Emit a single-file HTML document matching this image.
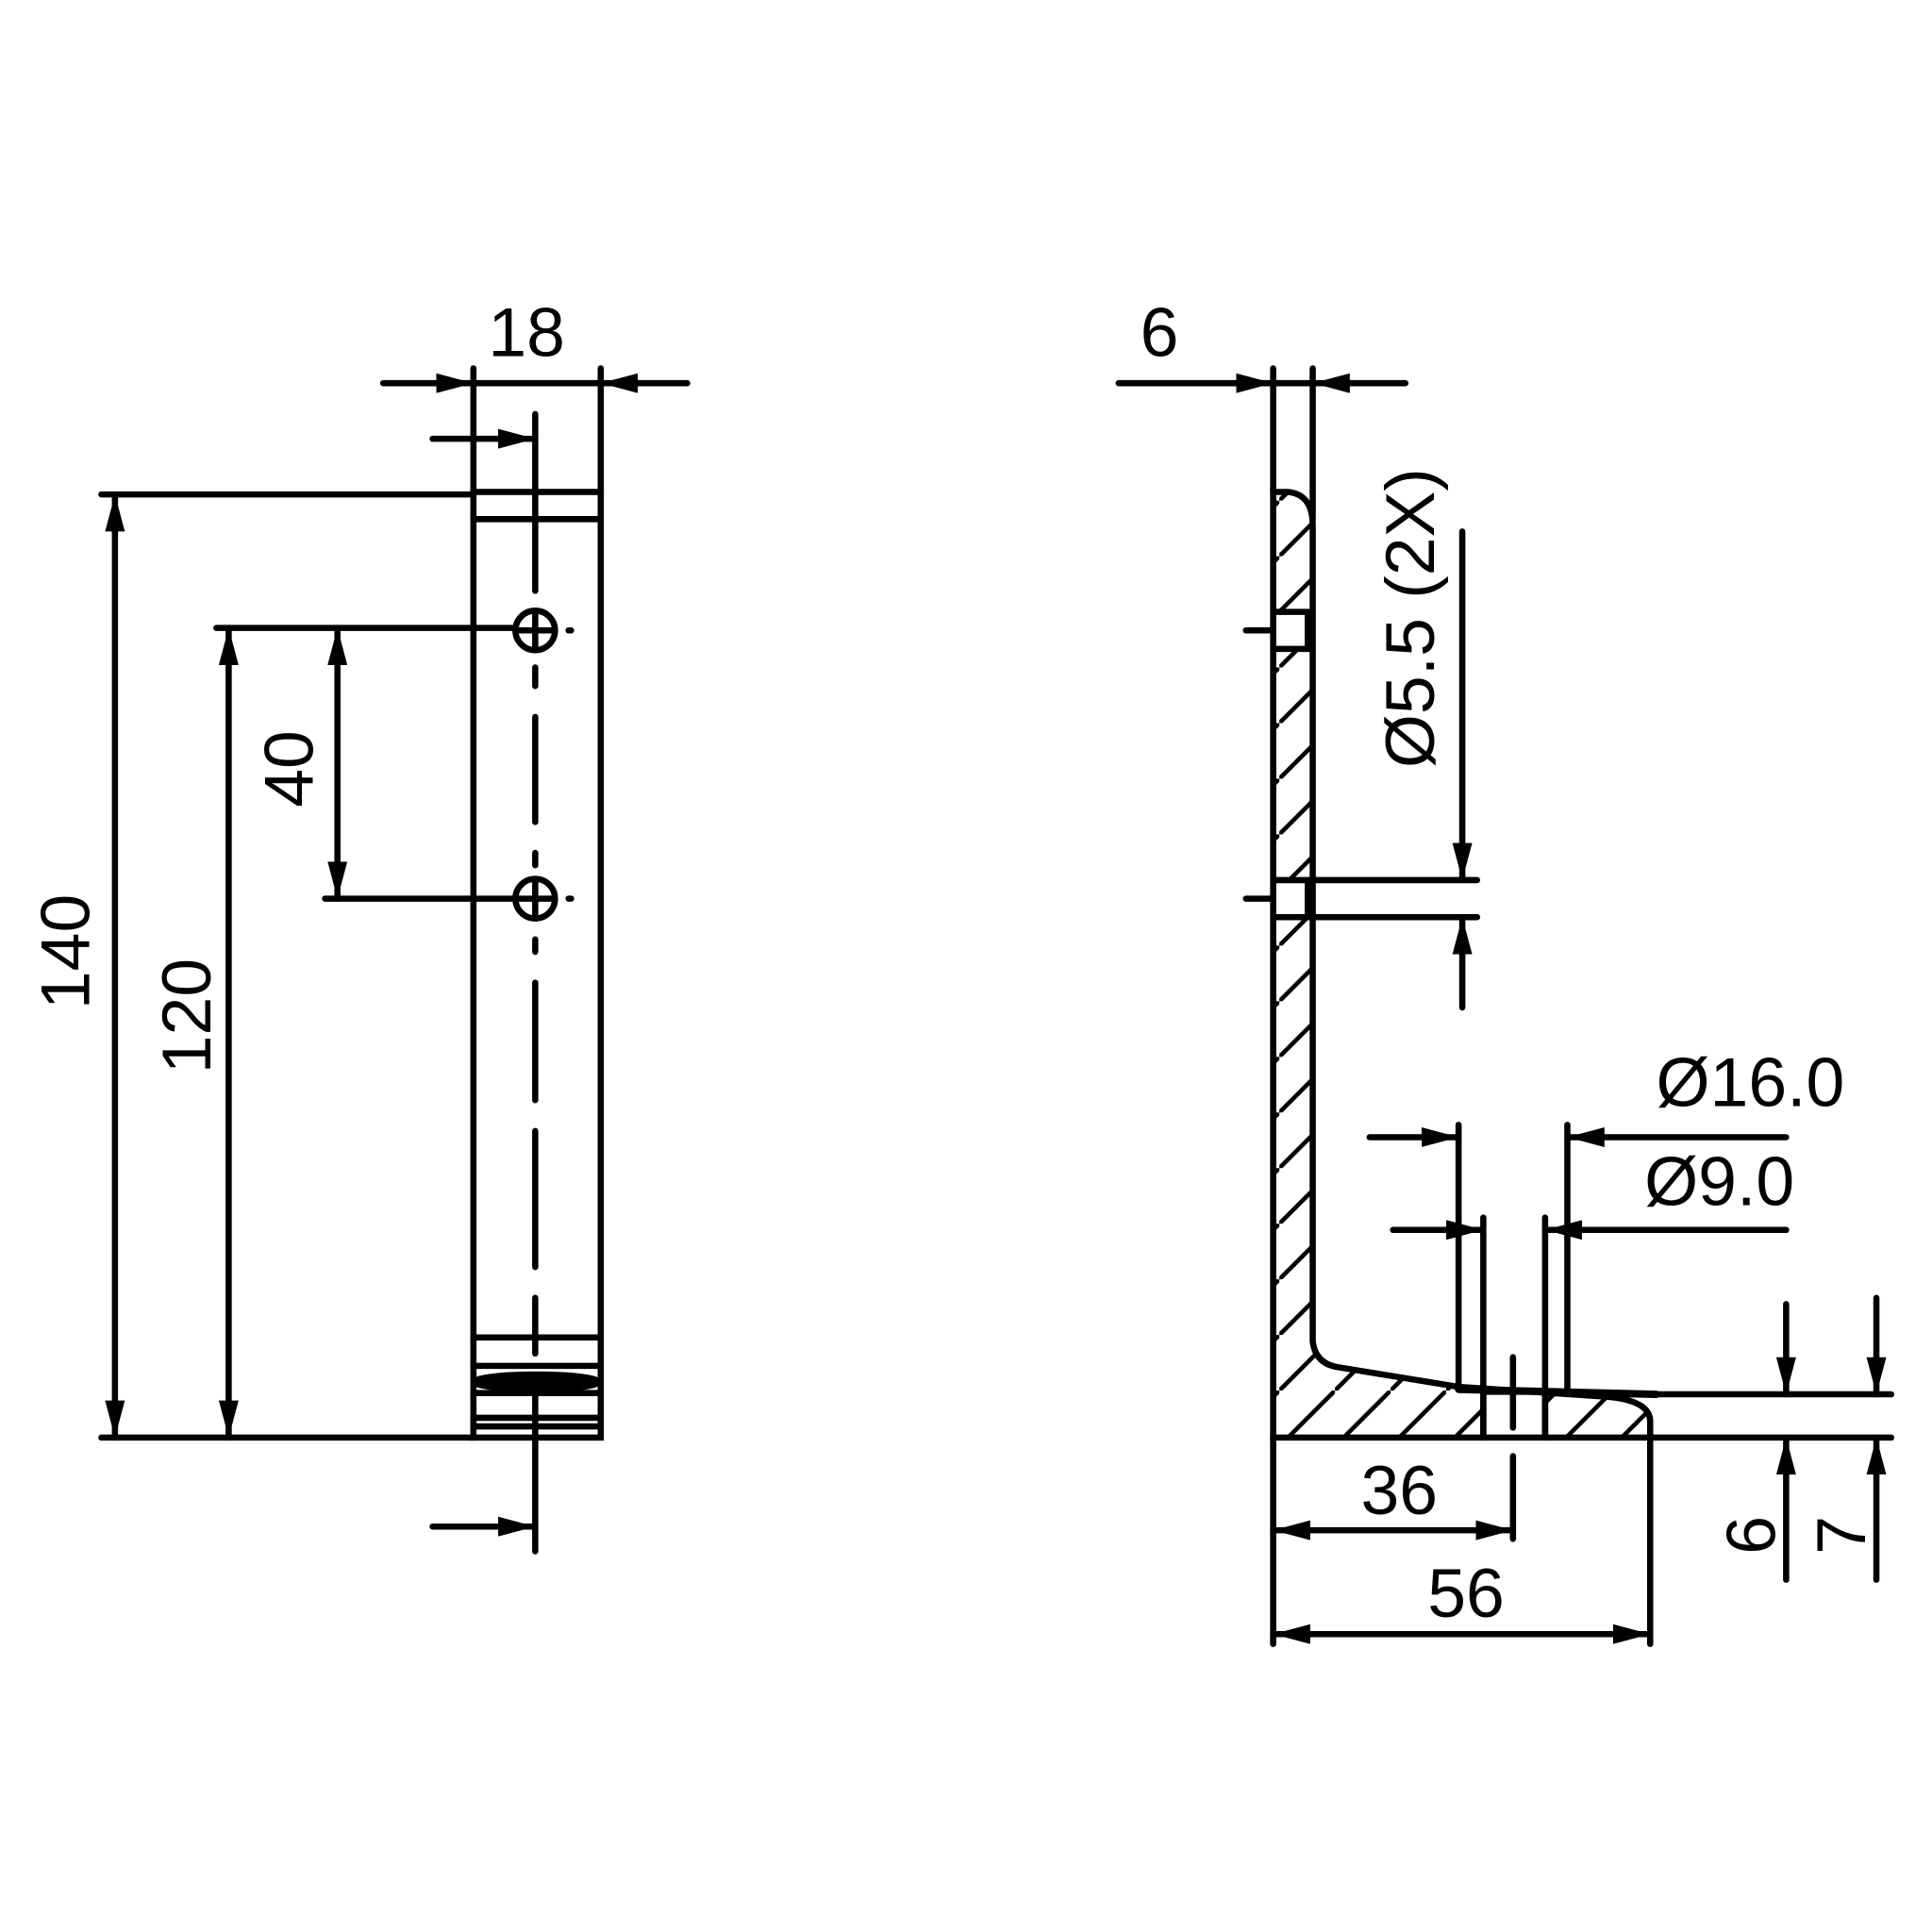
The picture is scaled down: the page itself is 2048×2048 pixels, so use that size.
<!DOCTYPE html>
<html><head><style>html,body{margin:0;padding:0;background:#fff}svg{display:block}</style></head><body>
<svg width="2048" height="2048" viewBox="0 0 1563 1563" xmlns="http://www.w3.org/2000/svg">
<defs>
<marker id="a" viewBox="0 0 30 16" refX="30" refY="8" markerWidth="30" markerHeight="16" markerUnits="userSpaceOnUse" orient="auto-start-reverse"><path d="M0,0 L30,8 L0,16 Z" fill="#000"/></marker>
<pattern id="h" patternUnits="userSpaceOnUse" width="45" height="45"><line x1="-5" y1="50" x2="50" y2="-5" stroke="#000" stroke-width="3.5"/></pattern>
</defs>
<g stroke="#000" stroke-width="5" fill="none" stroke-linecap="round">
<!-- left view -->
<rect x="383" y="398" width="103" height="765"/>
<line x1="383" y1="420" x2="486" y2="420"/>
<line x1="383" y1="1082" x2="486" y2="1082"/>
<line x1="383" y1="1105" x2="486" y2="1105"/>
<ellipse cx="434" cy="1118" rx="50" ry="6" fill="#000"/>
<line x1="383" y1="1127" x2="486" y2="1127"/>
<line x1="383" y1="1147" x2="486" y2="1147"/>
<line x1="383" y1="1154" x2="486" y2="1154"/>
<line x1="433" y1="335" x2="433" y2="478"/>
<line x1="433" y1="540" x2="433" y2="555"/>
<line x1="433" y1="580" x2="433" y2="665"/>
<line x1="433" y1="690" x2="433" y2="700"/>
<line x1="433" y1="760" x2="433" y2="770"/>
<line x1="433" y1="795" x2="433" y2="890"/>
<line x1="433" y1="915" x2="433" y2="1025"/>
<line x1="433" y1="1050" x2="433" y2="1095"/>
<line x1="433" y1="1120" x2="433" y2="1255"/>
<circle cx="433" cy="510" r="16"/><line x1="417" y1="510" x2="449" y2="510"/><line x1="433" y1="494" x2="433" y2="526"/>
<circle cx="433" cy="727" r="16"/><line x1="417" y1="727" x2="449" y2="727"/><line x1="433" y1="711" x2="433" y2="743"/>
<line x1="460" y1="510" x2="462" y2="510"/><line x1="460" y1="727" x2="462" y2="727"/>
<!-- left dims -->
<line x1="383" y1="298" x2="383" y2="398"/><line x1="486" y1="298" x2="486" y2="398"/>
<line x1="310" y1="310" x2="383" y2="310" marker-end="url(#a)"/>
<line x1="556" y1="310" x2="486" y2="310" marker-end="url(#a)"/>
<line x1="383" y1="310" x2="486" y2="310"/>
<line x1="350" y1="355" x2="433" y2="355" marker-end="url(#a)"/>
<line x1="350" y1="1235" x2="433" y2="1235" marker-end="url(#a)"/>
<line x1="82" y1="400" x2="383" y2="400"/>
<line x1="82" y1="1163" x2="383" y2="1163"/>
<line x1="93" y1="400" x2="93" y2="1163" marker-start="url(#a)" marker-end="url(#a)"/>
<line x1="175" y1="508" x2="417" y2="508"/>
<line x1="263" y1="727" x2="417" y2="727"/>
<line x1="185" y1="508" x2="185" y2="1163" marker-start="url(#a)" marker-end="url(#a)"/>
<line x1="273" y1="508" x2="273" y2="727" marker-start="url(#a)" marker-end="url(#a)"/>
<!-- right view section -->
<path fill="url(#h)" fill-rule="evenodd" d="M1030,1163 V398 H1042 Q1062,400 1062,425 V1085 Q1064,1103 1082,1106 L1180,1122 L1300,1130 Q1335,1133 1335,1150 V1163 Z M1200,1126 H1250 V1163 H1200 Z M1030,495 H1058 V525 H1030 Z M1030,712 H1058 V742 H1030 Z"/>
<line x1="1180" y1="1124" x2="1340" y2="1128" stroke-width="6"/>
<line x1="1340" y1="1128" x2="1530" y2="1128"/>
<line x1="1335" y1="1163" x2="1530" y2="1163"/>
<line x1="1008" y1="510" x2="1030" y2="510"/><line x1="1008" y1="727" x2="1030" y2="727"/>
<!-- hole lines -->
<line x1="1180" y1="910" x2="1180" y2="1124"/>
<line x1="1268" y1="910" x2="1268" y2="1126"/>
<line x1="1200" y1="985" x2="1200" y2="1163"/>
<line x1="1250" y1="985" x2="1250" y2="1163"/>
<line x1="1224" y1="1098" x2="1224" y2="1155"/>
<!-- top 6 -->
<line x1="1030" y1="298" x2="1030" y2="398"/><line x1="1062" y1="298" x2="1062" y2="420"/>
<line x1="905" y1="310" x2="1030" y2="310" marker-end="url(#a)"/>
<line x1="1137" y1="310" x2="1062" y2="310" marker-end="url(#a)"/>
<line x1="1030" y1="310" x2="1062" y2="310"/>
<!-- 5.5 -->
<line x1="1062" y1="712" x2="1195" y2="712"/>
<line x1="1062" y1="742" x2="1195" y2="742"/>
<line x1="1183" y1="430" x2="1183" y2="712" marker-end="url(#a)"/>
<line x1="1183" y1="815" x2="1183" y2="742" marker-end="url(#a)"/>
<!-- 16 / 9 -->
<line x1="1108" y1="920" x2="1180" y2="920" marker-end="url(#a)"/>
<line x1="1445" y1="920" x2="1268" y2="920" marker-end="url(#a)"/>
<line x1="1127" y1="995" x2="1200" y2="995" marker-end="url(#a)"/>
<line x1="1445" y1="995" x2="1250" y2="995" marker-end="url(#a)"/>
<!-- 6 7 -->
<line x1="1445" y1="1055" x2="1445" y2="1128" marker-end="url(#a)"/>
<line x1="1445" y1="1278" x2="1445" y2="1163" marker-end="url(#a)"/>
<line x1="1518" y1="1050" x2="1518" y2="1128" marker-end="url(#a)"/>
<line x1="1518" y1="1278" x2="1518" y2="1163" marker-end="url(#a)"/>
<!-- 36 56 -->
<line x1="1030" y1="1163" x2="1030" y2="1330"/>
<line x1="1335" y1="1163" x2="1335" y2="1330"/>
<line x1="1224" y1="1178" x2="1224" y2="1245"/>
<line x1="1030" y1="1238" x2="1224" y2="1238" marker-start="url(#a)" marker-end="url(#a)"/>
<line x1="1030" y1="1322" x2="1335" y2="1322" marker-start="url(#a)" marker-end="url(#a)"/>
</g>
<g font-family="Liberation Sans, sans-serif" font-size="56" fill="#000" text-anchor="middle">
<text x="426" y="288">18</text>
<text x="938" y="288">6</text>
<text transform="translate(72,770) rotate(-90)">140</text>
<text transform="translate(170,822) rotate(-90)">120</text>
<text transform="translate(253,622) rotate(-90)">40</text>
<text transform="translate(1160,500) rotate(-90)">Ø5.5 (2X)</text>
<text x="1416" y="895">Ø16.0</text>
<text x="1391" y="975">Ø9.0</text>
<text x="1132" y="1225">36</text>
<text x="1186" y="1308">56</text>
<text transform="translate(1436,1242) rotate(-90)">6</text>
<text transform="translate(1509,1242) rotate(-90)">7</text>
</g>
</svg>
</body></html>
